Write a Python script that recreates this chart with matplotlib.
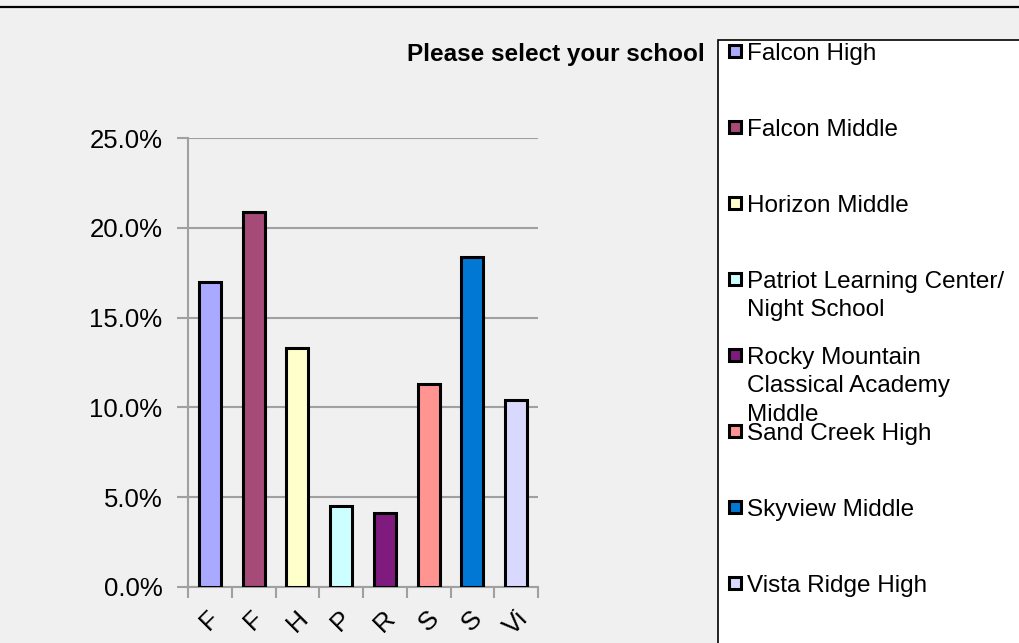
import matplotlib.pyplot as plt
from matplotlib.patches import Rectangle
from matplotlib.lines import Line2D

# survey data
schools = ["Falcon High", "Falcon Middle", "Horizon Middle",
           "Patriot Learning Center/\nNight School",
           "Rocky Mountain\nClassical Academy\nMiddle",
           "Sand Creek High", "Skyview Middle", "Vista Ridge High"]
short_labels = ["F", "F", "H", "P", "R", "S", "S", "Vi"]
shares = [0.170, 0.209, 0.133, 0.045, 0.041, 0.113, 0.184, 0.104]
colors = ["#a9a9ff", "#a64a78", "#ffffcc", "#ccffff",
          "#7f1a7f", "#ff9490", "#0078d4", "#d9d9ff"]

plt.rcParams['font.family'] = ['Liberation Sans', 'DejaVu Sans']
bg = "#f0f0f0"
W, H = 1019, 643

fig = plt.figure(figsize=(W / 100, H / 100), dpi=100, facecolor=bg)

# top border line
fig.add_artist(Line2D([0, 1], [1 - 7 / H, 1 - 7 / H], color="black", lw=1.6,
                      transform=fig.transFigure))

ax = fig.add_axes([188 / W, 56 / H, 350 / W, 449 / H])
ax.set_facecolor(bg)

x = range(len(shares))
ax.bar(x, shares, width=0.5, color=colors, edgecolor="black", linewidth=2.2,
       zorder=3)

ax.set_xlim(-0.5, len(shares) - 0.5)
ax.set_ylim(0, 0.25)
ax.set_yticks([0, 0.05, 0.10, 0.15, 0.20, 0.25])
ax.set_yticklabels([f"{v * 100:.1f}%" for v in ax.get_yticks()], fontsize=18.5)
ax.yaxis.grid(True, color="#a0a0a0", linewidth=1.5, zorder=0)
ax.tick_params(axis="y", length=8, width=1.5, color="#a0a0a0", pad=10.5)

ax.set_xticks(list(x))
ax.set_xticklabels(short_labels, rotation=45, fontsize=19, ha="center")
ax.set_xticks([i - 0.5 for i in range(len(shares) + 1)], minor=True)
ax.tick_params(axis="x", which="major", length=0, pad=14)
ax.tick_params(axis="x", which="minor", length=8, width=1.5, color="#a0a0a0")

for side in ["top", "right"]:
    ax.spines[side].set_visible(False)
for side in ["left", "bottom"]:
    ax.spines[side].set_color("#a0a0a0")
    ax.spines[side].set_linewidth(1.5)

# title
fig.text(705 / W, 1 - 54 / H, "Please select your school", ha="right",
         va="center", fontsize=17.5, fontweight="bold")

# legend box (cut off at right/bottom like the original)
fig.add_artist(Rectangle((718 / W, -0.01), 0.3, 1 - 40 / H + 0.01,
                         transform=fig.transFigure, facecolor="white",
                         edgecolor="black", linewidth=1.2))
for i, (name, c) in enumerate(zip(schools, colors)):
    y = 53 + i * 76
    fig.add_artist(Rectangle((729 / W, 1 - (y + 4) / H), 12 / W, 12 / H,
                             transform=fig.transFigure, facecolor=c,
                             edgecolor="black", linewidth=2.2))
    fig.text(747 / W, 1 - (y - 10) / H, name, ha="left", va="top",
             fontsize=17.5, linespacing=1.38)

fig.savefig("out.png", dpi=100, facecolor=bg)
